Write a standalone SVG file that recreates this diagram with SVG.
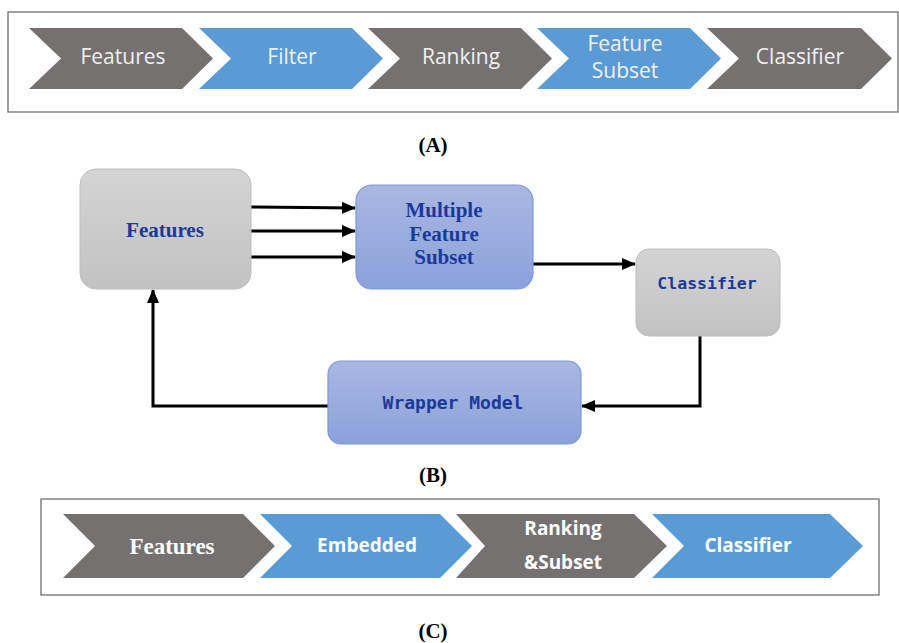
<svg xmlns="http://www.w3.org/2000/svg" width="899" height="643" viewBox="0 0 899 643">
<defs>
<style>
.frame{fill:#fff;stroke:#6e6e6e;stroke-width:1.3}
.gray{fill:#767171}
.blue{fill:#5b9bd5}
.ta{font-family:"Open Sans","Noto Sans",sans-serif;font-size:21px;fill:#f0f0f0;text-anchor:middle;dominant-baseline:central}
.tc{font-family:"Open Sans","Noto Sans",sans-serif;font-weight:bold;font-size:19px;fill:#fff;text-anchor:middle;dominant-baseline:central}
.tcs{font-family:"Liberation Serif","Times New Roman",serif;font-weight:bold;font-size:23px;fill:#fff;text-anchor:middle;dominant-baseline:central}
.cap{font-family:"Liberation Serif","Times New Roman",serif;font-weight:bold;font-size:21px;fill:#000;text-anchor:middle}
.bs{font-family:"Liberation Serif","Times New Roman",serif;font-weight:bold;font-size:21px;fill:#1a3a9a;text-anchor:middle;dominant-baseline:central}
.mono{font-family:"DejaVu Sans Mono","Liberation Mono",monospace;font-weight:bold;fill:#1a3a9a;text-anchor:middle;dominant-baseline:central}
.gbox{fill:url(#gg);stroke:#bdbdbd;stroke-width:1}
.bbox{fill:url(#bg);stroke:#7f97d6;stroke-width:1.2}
.conn{fill:none;stroke:#000;stroke-width:3}
</style>
<linearGradient id="gg" x1="0" y1="0" x2="0" y2="1">
<stop offset="0" stop-color="#d4d4d4"/><stop offset="1" stop-color="#c2c2c2"/>
</linearGradient>
<linearGradient id="bg" x1="0" y1="0" x2="0" y2="1">
<stop offset="0" stop-color="#a9b8e2"/><stop offset="1" stop-color="#8aa1da"/>
</linearGradient>
<marker id="ah" markerUnits="userSpaceOnUse" markerWidth="14" markerHeight="12" refX="13" refY="6" orient="auto">
<path d="M0,0 L14,6 L0,12 Z" fill="#000"/>
</marker>
</defs>

<!-- Panel A -->
<rect class="frame" x="8" y="12" width="890" height="100"/>
<g id="a-features"><polygon class="gray" points="29,28 182,28 213,58.5 182,89 29,89 61,58.5"/><text class="ta" x="123" y="56">Features</text></g>
<g id="a-filter"><polygon class="blue" points="199,28 352,28 383,58.5 352,89 199,89 231,58.5"/><text class="ta" x="292" y="56">Filter</text></g>
<g id="a-ranking"><polygon class="gray" points="368,28 521,28 552,58.5 521,89 368,89 400,58.5"/><text class="ta" x="461" y="56">Ranking</text></g>
<g id="a-subset"><polygon class="blue" points="537,28 690,28 721,58.5 690,89 537,89 569,58.5"/><text class="ta" x="625" y="43">Feature</text><text class="ta" x="625" y="70">Subset</text></g>
<g id="a-classifier"><polygon class="gray" points="707,28 861,28 892,58.5 861,89 707,89 739,58.5"/><text class="ta" x="800" y="56">Classifier</text></g>
<text class="cap" x="433" y="152">(A)</text>

<!-- Panel B -->
<g id="connectors">
<line class="conn" x1="251" y1="207" x2="355" y2="208" marker-end="url(#ah)"/>
<line class="conn" x1="251" y1="231" x2="355" y2="231" marker-end="url(#ah)"/>
<line class="conn" x1="251" y1="257" x2="355" y2="257" marker-end="url(#ah)"/>
<line class="conn" x1="533" y1="264" x2="635" y2="264" marker-end="url(#ah)"/>
<polyline class="conn" points="700,335 700,406 582,406" marker-end="url(#ah)"/>
<polyline class="conn" points="328,406 153,406 153,290" marker-end="url(#ah)"/>
</g>
<g id="b-features"><rect class="gbox" x="80" y="169" width="171" height="120" rx="16"/><text class="bs" x="165" y="230">Features</text></g>
<g id="b-multiple"><rect class="bbox" x="356" y="185" width="177" height="104" rx="16"/><text class="bs" x="444" y="210">Multiple</text><text class="bs" x="444" y="234">Feature</text><text class="bs" x="444" y="257">Subset</text></g>
<g id="b-classifier"><rect class="gbox" x="636" y="249" width="144" height="87" rx="13"/><text class="mono" x="707" y="283" font-size="16.5">Classifier</text></g>
<g id="b-wrapper"><rect class="bbox" x="328" y="361" width="253" height="83" rx="13"/><text class="mono" x="453" y="402" font-size="18">Wrapper Model</text></g>
<text class="cap" x="433" y="482">(B)</text>

<!-- Panel C -->
<rect class="frame" x="41" y="499" width="838" height="96"/>
<g id="c-features"><polygon class="gray" points="63,514 243,514 275,546 243,578 63,578 95,546"/><text class="tcs" x="172" y="546">Features</text></g>
<g id="c-embedded"><polygon class="blue" points="260,514 440,514 472,546 440,578 260,578 292,546"/><text class="tc" x="367" y="545">Embedded</text></g>
<g id="c-ranking"><polygon class="gray" points="456,514 634,514 667,546 634,578 456,578 485,546"/><text class="tc" x="563" y="528">Ranking</text><text class="tc" x="563" y="562">&amp;Subset</text></g>
<g id="c-classifier"><polygon class="blue" points="652,514 830,514 863,546 830,578 652,578 684,546"/><text class="tc" x="748" y="545">Classifier</text></g>
<text class="cap" x="433" y="638">(C)</text>
</svg>
